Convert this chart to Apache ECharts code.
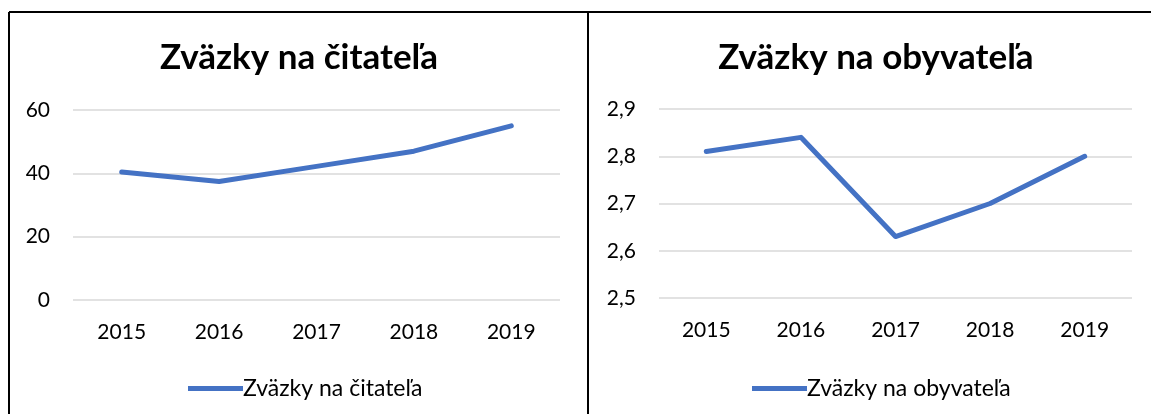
<!DOCTYPE html>
<html>
<head>
<meta charset="utf-8">
<script src="https://cdn.jsdelivr.net/npm/echarts@6/dist/echarts.min.js"></script>
<style>
  html, body { margin: 0; padding: 0; background: #fff; }
  #chart { width: 1151px; height: 414px; }
</style>
</head>
<body>
<div id="chart"></div>
<script>
const years = ['2015', '2016', '2017', '2018', '2019']
const perReader = [40.4, 37.4, 42.2, 47.0, 55.0]
const perInhabitant = [2.81, 2.84, 2.63, 2.70, 2.80]
const readerTicks = { min: 0, max: 60, interval: 20 }
const inhabitantTicks = { min: 2.5, max: 2.9, interval: 0.1 }

const blue = '#4472c4'
const font = 'Lato, "Open Sans", sans-serif'

function yAxis(gridIndex, ticks, comma) {
  return {
    type: 'value',
    gridIndex,
    min: ticks.min,
    max: ticks.max,
    interval: ticks.interval,
    axisLine: { show: false },
    axisTick: { show: false },
    axisLabel: {
      color: '#000',
      fontFamily: font,
      fontSize: 21,
      margin: 23,
      formatter: v => comma ? v.toFixed(1).replace('.', ',') : String(v)
    },
    splitLine: { lineStyle: { color: '#d9d9d9', width: 1.5 } }
  }
}

function xAxis(gridIndex) {
  return {
    type: 'category',
    gridIndex,
    data: years,
    boundaryGap: true,
    axisLine: { show: false },
    axisTick: { show: false },
    axisLabel: { color: '#000', fontFamily: font, fontSize: 21, margin: 22 }
  }
}

function frameLine(x1, y1, x2, y2) {
  return {
    type: 'line',
    shape: { x1, y1, x2, y2 },
    style: { stroke: '#000', lineWidth: 2 },
    silent: true
  }
}

const chart = echarts.init(document.getElementById('chart'))
chart.setOption({
  animation: false,
  backgroundColor: '#fff',
  title: [{
    text: 'Zväzky na čitateľa',
    left: 294,
    top: 35,
    textAlign: 'center',
    textStyle: { fontFamily: font, fontWeight: 'bold', fontSize: 35, color: '#000' }
  }, {
    text: 'Zväzky na obyvateľa',
    left: 871,
    top: 35,
    textAlign: 'center',
    textStyle: { fontFamily: font, fontWeight: 'bold', fontSize: 35, color: '#000' }
  }],
  legend: [{
    data: ['Zväzky na čitateľa'],
    left: 183,
    top: 372,
    icon: 'rect',
    itemWidth: 55,
    itemHeight: 5,
    textStyle: { fontFamily: font, fontSize: 23, color: '#000', padding: [0, 0, 0, -5] }
  }, {
    data: ['Zväzky na obyvateľa'],
    left: 747,
    top: 372,
    icon: 'rect',
    itemWidth: 55,
    itemHeight: 5,
    textStyle: { fontFamily: font, fontSize: 23, color: '#000', padding: [0, 0, 0, -5] }
  }],
  grid: [
    { left: 73, right: 591, top: 110, bottom: 114 },
    { left: 659, right: 19, top: 109, bottom: 116 }
  ],
  xAxis: [xAxis(0), xAxis(1)],
  yAxis: [yAxis(0, readerTicks, false), yAxis(1, inhabitantTicks, true)],
  series: [{
    name: 'Zväzky na čitateľa',
    type: 'line',
    xAxisIndex: 0,
    yAxisIndex: 0,
    data: perReader,
    symbol: 'none',
    itemStyle: { color: blue },
    lineStyle: { color: blue, width: 5, cap: 'round', join: 'round' }
  }, {
    name: 'Zväzky na obyvateľa',
    type: 'line',
    xAxisIndex: 1,
    yAxisIndex: 1,
    data: perInhabitant,
    symbol: 'none',
    itemStyle: { color: blue },
    lineStyle: { color: blue, width: 5, cap: 'round', join: 'round' }
  }],
  graphic: [
    frameLine(9, 12, 1151, 12),
    frameLine(9, 12, 9, 414),
    frameLine(588, 12, 588, 414)
  ]
})
</script>
</body>
</html>
